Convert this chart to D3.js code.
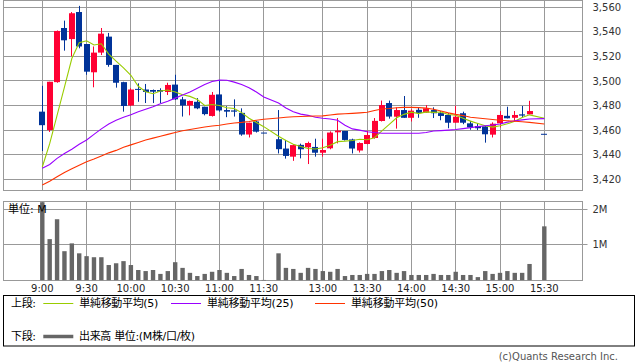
<!DOCTYPE html>
<html>
<head>
<meta charset="utf-8">
<script src="https://cdn.jsdelivr.net/npm/d3@7"></script>
<style>
body { margin: 0; background: #fff; }
svg { display: block; }
text { font-family: "DejaVu Sans", "Noto Sans CJK JP", sans-serif; }
</style>
</head>
<body>
<svg id="chart" width="638" height="362"></svg>
<script>
// 5-minute slots; 12:25 and 15:25 have no trades
const times = ['9:00', '9:05', '9:10', '9:15', '9:20', '9:25', '9:30', '9:35', '9:40', '9:45', '9:50', '9:55',
    '10:00', '10:05', '10:10', '10:15', '10:20', '10:25', '10:30', '10:35', '10:40', '10:45', '10:50', '10:55',
    '11:00', '11:05', '11:10', '11:15', '11:20', '11:25', '11:30', '12:25',
    '12:30', '12:35', '12:40', '12:45', '12:50', '12:55', '13:00', '13:05', '13:10', '13:15', '13:20', '13:25',
    '13:30', '13:35', '13:40', '13:45', '13:50', '13:55', '14:00', '14:05', '14:10', '14:15', '14:20', '14:25',
    '14:30', '14:35', '14:40', '14:45', '14:50', '14:55', '15:00', '15:05', '15:10', '15:15', '15:20', '15:25', '15:30'];

const open = [3475, 3460, 3499, 3543, 3534, 3556, 3530, 3507, 3523, 3536, 3513, 3499, 3480, 3493.5, 3493, 3492.6, 3492.6, 3491, 3497, 3485,
    3480, 3483, 3479, 3471.5, 3489, 3476.3, 3476, 3474, 3456.4, 3467, 3458, null, 3452.6, 3445, 3438.4, 3448, 3446, 3446.3, 3441.6, 3445.2,
    3458.2, 3459.3, 3452.4, 3443.4, 3448.7, 3453.6, 3467.4, 3482, 3470.9, 3476.3, 3470, 3476.5, 3474.2, 3476.3, 3473.8, 3472.3, 3466, 3473.7,
    3465.5, 3463.3, 3463, 3456.3, 3465.5, 3471.6, 3470, 3472.8, 3472.8, null, 3457];
const high = [3496, 3499.3, 3541, 3549, 3556, 3561, 3530, 3528, 3543, 3539, 3513, 3499.3, 3494, 3498, 3497.5, 3493, 3494, 3498.5, 3505, 3487,
    3484, 3486, 3479, 3491, 3500.5, 3479.5, 3485, 3477.7, 3466, 3467.6, 3458, null, 3476.3, 3452, 3448.5, 3449, 3450.6, 3453, 3453, 3459,
    3469.8, 3459.3, 3453, 3450, 3459.5, 3469.8, 3484, 3484, 3478.4, 3487.7, 3477, 3478.4, 3480.4, 3478.5, 3475.5, 3473.8, 3479.8, 3475,
    3467.5, 3465.5, 3463.5, 3466.3, 3475.5, 3479, 3475.5, 3479.6, 3483.8, null, 3457];
const low = [3443, 3458.5, 3498.5, 3524.6, 3520, 3526.5, 3505, 3494.8, 3521, 3511.5, 3494.5, 3475, 3479.6, 3483, 3482, 3482, 3482, 3488.5, 3484.5, 3471,
    3472, 3477, 3472, 3471, 3475, 3470.5, 3471, 3455.4, 3454, 3458, 3458, null, 3441, 3436.8, 3435, 3437, 3432.4, 3438.4, 3438.4, 3444.4,
    3449.2, 3451.5, 3441, 3441.8, 3448.5, 3453, 3467, 3469.3, 3461.2, 3470, 3467, 3470, 3474, 3469.8, 3468, 3461.5, 3466, 3464.8,
    3460.3, 3460, 3449.8, 3454, 3462.2, 3469.5, 3467.2, 3470.3, 3472.8, null, 3457];
const close = [3464, 3499.3, 3540.6, 3533, 3555, 3528, 3507.5, 3523, 3538.4, 3513, 3498.5, 3479.6, 3493, 3493, 3491, 3491.2, 3491.2, 3496.7, 3485, 3480,
    3483.7, 3477.7, 3473, 3488.7, 3476, 3475, 3475, 3456.4, 3466, 3458.7, 3458, null, 3444.5, 3439, 3447.8, 3444.4, 3449.5, 3441.6, 3443.8, 3458,
    3459.6, 3452, 3445, 3449.5, 3456, 3467.5, 3480.4, 3471, 3476.3, 3470, 3475.8, 3474, 3477.7, 3473.7, 3471.5, 3466, 3470.9, 3466,
    3462.2, 3461.5, 3456.6, 3465.2, 3472.3, 3469.6, 3472.3, 3471.8, 3475.5, null, 3457];

// moving averages
const ma5 = [3430, 3449, 3472, 3495, 3518.2, 3531, 3532.6, 3529.2, 3530.2, 3521.8, 3516, 3510.6, 3504.6, 3495.6, 3491.2, 3489.6, 3491.8, 3492.6, 3491, 3488.8,
    3487.4, 3484.8, 3480, 3480.8, 3480, 3478.2, 3477.6, 3474.2, 3469.6, 3466.2, 3462.8, null, 3455, 3451.5, 3448.5, 3446.6, 3445, 3444.6, 3445.6, 3447.6,
    3450.6, 3451, 3451.6, 3452.6, 3452.2, 3453.8, 3459.4, 3464.6, 3470, 3472.8, 3474.6, 3473.4, 3474.8, 3474.4, 3474.7, 3472.7, 3472.1, 3469.7,
    3467.3, 3465.4, 3463.6, 3462.4, 3463.6, 3465.1, 3467.2, 3470.3, 3472.4, null, 3469.6];
const ma25 = [3429, 3432, 3437, 3441, 3444.5, 3448.5, 3452, 3456.5, 3461, 3465, 3468, 3470.5, 3472.5, 3475, 3477, 3479, 3481.5, 3483.5, 3486, 3488.5,
    3491, 3494, 3497, 3499.5, 3500.6, 3500.5, 3499, 3497, 3494.5, 3491, 3487, null, 3482, 3478, 3475, 3473, 3472, 3470.5, 3469.6, 3469,
    3468, 3464, 3461, 3460, 3458.7, 3458, 3457.5, 3457.4, 3457.4, 3457.4, 3457.4, 3457.4, 3458, 3459.3, 3459.6, 3460, 3460.5, 3461.2,
    3462, 3462.8, 3463.5, 3464.2, 3465, 3466.5, 3467.6, 3468.3, 3469, null, 3469.3];
const ma50 = [3415.4, 3418.5, 3422, 3425.5, 3428.5, 3431.5, 3434.3, 3436.5, 3439, 3441.5, 3443.5, 3446, 3448, 3450, 3452, 3453.5, 3455, 3456.5, 3458, 3459.5,
    3460.5, 3461.5, 3462.5, 3463.3, 3464, 3465, 3465.8, 3466.3, 3467, 3468, 3468.8, null, 3469.8, 3470.4, 3470.8, 3471, 3471.3, 3471.5, 3471.6, 3472.3,
    3473, 3473.3, 3473.6, 3474, 3474.5, 3476, 3477.2, 3477.6, 3478.2, 3478.5, 3478.5, 3478.3, 3477.9, 3477, 3475.5, 3474, 3472.8, 3471.8,
    3470.5, 3469.8, 3469.2, 3468.6, 3468, 3467.6, 3467.2, 3466.8, 3466.3, null, 3465];

// volume in millions
const volume = [2.2, 1.16, 1.72, 0.82, 1.04, 0.76, 0.68, 0.65, 0.65, 0.43, 0.48, 0.54, 0.43, 0.29, 0.26, 0.29, 0.18, 0.26, 0.51, 0.35,
    0.21, 0.12, 0.18, 0.24, 0.29, 0.21, 0.12, 0.32, 0.15, 0.12, 0.01, null, 0.76, 0.35, 0.32, 0.21, 0.35, 0.32, 0.26, 0.24,
    0.32, 0.12, 0.15, 0.15, 0.18, 0.18, 0.26, 0.29, 0.21, 0.26, 0.15, 0.15, 0.15, 0.18, 0.15, 0.15, 0.24, 0.15,
    0.15, 0.09, 0.26, 0.18, 0.21, 0.26, 0.21, 0.21, 0.46, null, 1.52];

const timeTicks = ['9:00', '9:30', '10:00', '10:30', '11:00', '11:30', '13:00', '13:30', '14:00', '14:30', '15:00', '15:30'];
const priceTicks = [3420, 3440, 3460, 3480, 3500, 3520, 3540, 3560];
const volumeTicks = [1, 2];

const maLines = [
    { name: '単純移動平均(5)', values: ma5, color: '#99cc00' },
    { name: '単純移動平均(25)', values: ma25, color: '#9900ff' },
    { name: '単純移動平均(50)', values: ma50, color: '#ff3300' },
];

const UP = '#ff0033';
const DOWN = '#003399';
const GRID = '#999999';

const svg = d3.select('#chart');
const main = { left: 3.5, right: 582.5, top: 0.5, bottom: 190.5 };
const vol = { left: 3.5, right: 582.5, top: 201.5, bottom: 280.5 };

const x = d3.scalePoint().domain(times).range([42.3, 544.3]);
const y = d3.scaleLinear().domain([3420, 3540]).range([179.3, 31.7]);
const yv = d3.scaleLinear().domain([0, 2]).range([280.3, 209.3]);
const crisp = (v) => Math.round(v - 0.5) + 0.5;

const defs = svg.append('defs');
defs.append('clipPath').attr('id', 'clipMain').append('rect')
    .attr('x', main.left).attr('y', main.top).attr('width', main.right - main.left).attr('height', main.bottom - main.top);
defs.append('clipPath').attr('id', 'clipVol').append('rect')
    .attr('x', vol.left).attr('y', vol.top).attr('width', vol.right - vol.left).attr('height', vol.bottom - vol.top);

// ---- upper panel grid
const gMain = svg.append('g');
gMain.selectAll('.hgrid').data(priceTicks.filter((d) => y(d) > main.top + 2)).join('line')
    .attr('x1', main.left).attr('x2', main.right)
    .attr('y1', (d) => crisp(y(d))).attr('y2', (d) => crisp(y(d)))
    .attr('stroke', GRID);
gMain.selectAll('.vgrid').data(timeTicks).join('line')
    .attr('x1', (d) => crisp(x(d))).attr('x2', (d) => crisp(x(d)))
    .attr('y1', main.top).attr('y2', main.bottom)
    .attr('stroke', GRID);
gMain.append('rect')
    .attr('x', main.left).attr('y', main.top).attr('width', main.right - main.left).attr('height', main.bottom - main.top)
    .attr('fill', 'none').attr('stroke', GRID);

gMain.selectAll('.plabel').data(priceTicks).join('text')
    .attr('x', 592.5).attr('y', (d) => Math.max(6, y(d))).attr('dy', '0.36em')
    .attr('font-size', 10).attr('fill', '#333')
    .text(d3.format(','));

// ---- candles
const candles = times.map((t, i) => ({ t, o: open[i], h: high[i], l: low[i], c: close[i] })).filter((d) => d.o != null);
const gCandle = svg.append('g').attr('clip-path', 'url(#clipMain)');
const candle = gCandle.selectAll('g').data(candles).join('g')
    .attr('fill', (d) => (d.c > d.o ? UP : DOWN))
    .attr('stroke', (d) => (d.c > d.o ? UP : DOWN));
candle.append('line')
    .attr('x1', (d) => crisp(x(d.t))).attr('x2', (d) => crisp(x(d.t)))
    .attr('y1', (d) => y(d.h)).attr('y2', (d) => y(d.l));
candle.append('rect')
    .attr('stroke', 'none')
    .attr('x', (d) => Math.round(x(d.t)) - 3).attr('width', 6)
    .attr('y', (d) => y(Math.max(d.o, d.c)))
    .attr('height', (d) => Math.max(1, Math.abs(y(d.o) - y(d.c))));

// ---- moving averages
const gLines = svg.append('g').attr('clip-path', 'url(#clipMain)');
maLines.forEach((m) => {
    const pts = times.map((t, i) => [t, m.values[i]]).filter((p) => p[1] != null);
    gLines.append('path')
        .datum(pts)
        .attr('fill', 'none').attr('stroke', m.color).attr('stroke-width', 1.1)
        .attr('d', d3.line().x((p) => x(p[0])).y((p) => y(p[1])));
});

// ---- volume panel
const gVol = svg.append('g');
gVol.selectAll('.vhgrid').data(volumeTicks).join('line')
    .attr('x1', vol.left).attr('x2', vol.right + 5)
    .attr('y1', (d) => crisp(yv(d))).attr('y2', (d) => crisp(yv(d)))
    .attr('stroke', GRID);
gVol.selectAll('.vvgrid').data(timeTicks).join('line')
    .attr('x1', (d) => crisp(x(d))).attr('x2', (d) => crisp(x(d)))
    .attr('y1', vol.top).attr('y2', vol.bottom)
    .attr('stroke', GRID);
gVol.append('rect')
    .attr('x', vol.left).attr('y', vol.top).attr('width', vol.right - vol.left).attr('height', vol.bottom - vol.top)
    .attr('fill', 'none').attr('stroke', GRID);

const vols = times.map((t, i) => ({ t, v: volume[i] })).filter((d) => d.v != null);
svg.append('g').attr('clip-path', 'url(#clipVol)')
    .selectAll('rect').data(vols).join('rect')
    .attr('x', (d) => x(d.t) - 2.2).attr('width', 4.4)
    .attr('y', (d) => yv(d.v)).attr('height', (d) => Math.max(0.8, yv(0) - yv(d.v)))
    .attr('fill', '#666666');

gVol.selectAll('.vlabel').data(volumeTicks).join('text')
    .attr('x', 592.5).attr('y', (d) => yv(d)).attr('dy', '0.36em')
    .attr('font-size', 10).attr('fill', '#333')
    .text((d) => d + 'M');

svg.append('text').attr('x', 8).attr('y', 213).attr('font-size', 11).attr('fill', '#000').text('単位: M');

svg.append('g').selectAll('text').data(timeTicks).join('text')
    .attr('x', (d) => x(d)).attr('y', 292)
    .attr('text-anchor', 'middle').attr('font-size', 10).attr('fill', '#222')
    .text((d) => d);

// ---- legend
const legend = svg.append('g');
legend.append('rect').attr('x', 3.5).attr('y', 295.5).attr('width', 631).attr('height', 50.5)
    .attr('fill', 'none').attr('stroke', '#000');
legend.append('text').attr('x', 11).attr('y', 306.5).attr('font-size', 11)
    .attr('textLength', 25).attr('lengthAdjust', 'spacing').text('上段:');
const itemX = [43.3, 171, 315];
const itemW = [79, 86.5, 87];
maLines.forEach((m, i) => {
    legend.append('line').attr('x1', itemX[i]).attr('x2', itemX[i] + 30).attr('y1', 303.5).attr('y2', 303.5)
        .attr('stroke', m.color);
    legend.append('text').attr('x', itemX[i] + 36).attr('y', 306.5).attr('font-size', 11)
        .attr('textLength', itemW[i]).attr('lengthAdjust', 'spacing').text(m.name);
});
legend.append('text').attr('x', 11).attr('y', 340).attr('font-size', 11)
    .attr('textLength', 25).attr('lengthAdjust', 'spacing').text('下段:');
legend.append('line').attr('x1', 43.3).attr('x2', 73.3).attr('y1', 336.5).attr('y2', 336.5)
    .attr('stroke', '#666').attr('stroke-width', 3.5);
legend.append('text').attr('x', 79).attr('y', 340).attr('font-size', 11)
    .attr('textLength', 116).attr('lengthAdjust', 'spacing').text('出来高 単位:(M株/口/枚)');

svg.append('text').attr('x', 618).attr('y', 360).attr('text-anchor', 'end')
    .attr('font-size', 10).attr('fill', '#555').text('(c)Quants Research Inc.');
</script>
</body>
</html>
